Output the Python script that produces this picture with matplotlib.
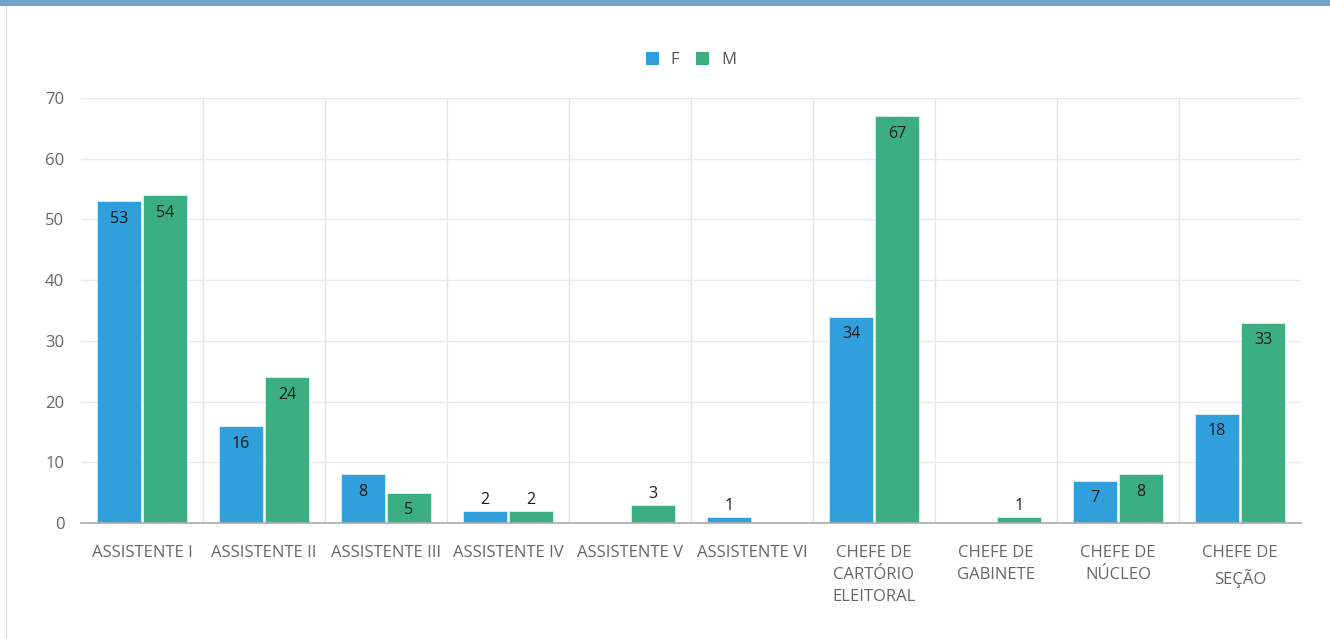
import matplotlib
matplotlib.use("Agg")
import matplotlib.pyplot as plt
import numpy as np
from matplotlib.patches import Rectangle

categories = ["ASSISTENTE I", "ASSISTENTE II", "ASSISTENTE III", "ASSISTENTE IV",
              "ASSISTENTE V", "ASSISTENTE VI", "CHEFE DE\nCARTÓRIO\nELEITORAL",
              "CHEFE DE\nGABINETE", "CHEFE DE\nNÚCLEO", "CHEFE DE\nSEÇÃO"]
series_names = ["F", "M"]
f_values = [53, 16, 8, 2, 0, 1, 34, 0, 7, 18]
m_values = [54, 24, 5, 2, 3, 0, 67, 1, 8, 33]
yticks = [0, 10, 20, 30, 40, 50, 60, 70]

colors = ["#319fdc", "#3baf82"]

plt.rcParams['font.family'] = ['Open Sans', 'DejaVu Sans']

W, H = 1330, 639
fig = plt.figure(figsize=(W / 100, H / 100), dpi=100)
fig.patch.set_facecolor("white")

# top band and left border
fig.patches.append(Rectangle((0, 1 - 6 / H), 1, 6 / H, transform=fig.transFigure,
                             facecolor="#6fa3cc", edgecolor="none"))
fig.patches.append(Rectangle((6 / W, 0), 1 / W, 1 - 6 / H, transform=fig.transFigure,
                             facecolor="#e0e0e0", edgecolor="none"))

x0, x1 = 81, 1301
ytop, ybot = 98, 523
ax = fig.add_axes([x0 / W, 1 - ybot / H, (x1 - x0) / W, (ybot - ytop) / H])

n = len(categories)
x = np.arange(n)
bw = 0.362
gap = 0.008
for i, (vals, name, c) in enumerate(zip([f_values, m_values], series_names, colors)):
    offs = (-bw / 2 - gap) if i == 0 else (bw / 2 + gap)
    ax.bar(x + offs, vals, width=bw, color=c, edgecolor="white", linewidth=0.4,
           label=name, zorder=3)
    for xi, v in zip(x + offs, vals):
        if v <= 0:
            continue
        if v >= 4:
            ax.annotate(str(v), (xi, v), xytext=(0, -7), textcoords="offset points",
                        ha="center", va="top", fontsize=11.5, color="#1a1a1a", zorder=4)
        else:
            ax.annotate(str(v), (xi, v), xytext=(0, 2), textcoords="offset points",
                        ha="center", va="bottom", fontsize=11.5, color="#1a1a1a", zorder=4)

ax.set_xlim(-0.5, n - 0.5)
ax.set_ylim(0, 70)
ax.set_yticks(yticks)
ax.set_yticklabels([str(t) for t in yticks])
ax.set_xticks(x)
ax.set_xticklabels(categories, linespacing=1.5)
ax.tick_params(axis="both", length=0, labelsize=12, colors="#666666")
ax.tick_params(axis="x", pad=16)
ax.tick_params(axis="y", pad=12)

ax.grid(axis="y", color="#e8e8ee", linewidth=1, zorder=0)
for b in np.arange(0.5, n - 1, 1):
    ax.axvline(b, color="#e4e4ec", linewidth=1, zorder=0)

for s in ["top", "right", "left"]:
    ax.spines[s].set_visible(False)
ax.spines["bottom"].set_color("#aaaaaa")
ax.spines["bottom"].set_linewidth(1.2)
ax.spines["bottom"].set_zorder(5)

leg = fig.legend(loc="center", bbox_to_anchor=(691 / W, 1 - 60 / H), ncol=2, frameon=False,
                 fontsize=12, handlelength=0.8, handleheight=0.8, handletextpad=0.7,
                 columnspacing=1.0, labelcolor="#555555")
for h in leg.legend_handles:
    h.set_edgecolor("none")

fig.savefig("out.png", dpi=100, facecolor="white")
